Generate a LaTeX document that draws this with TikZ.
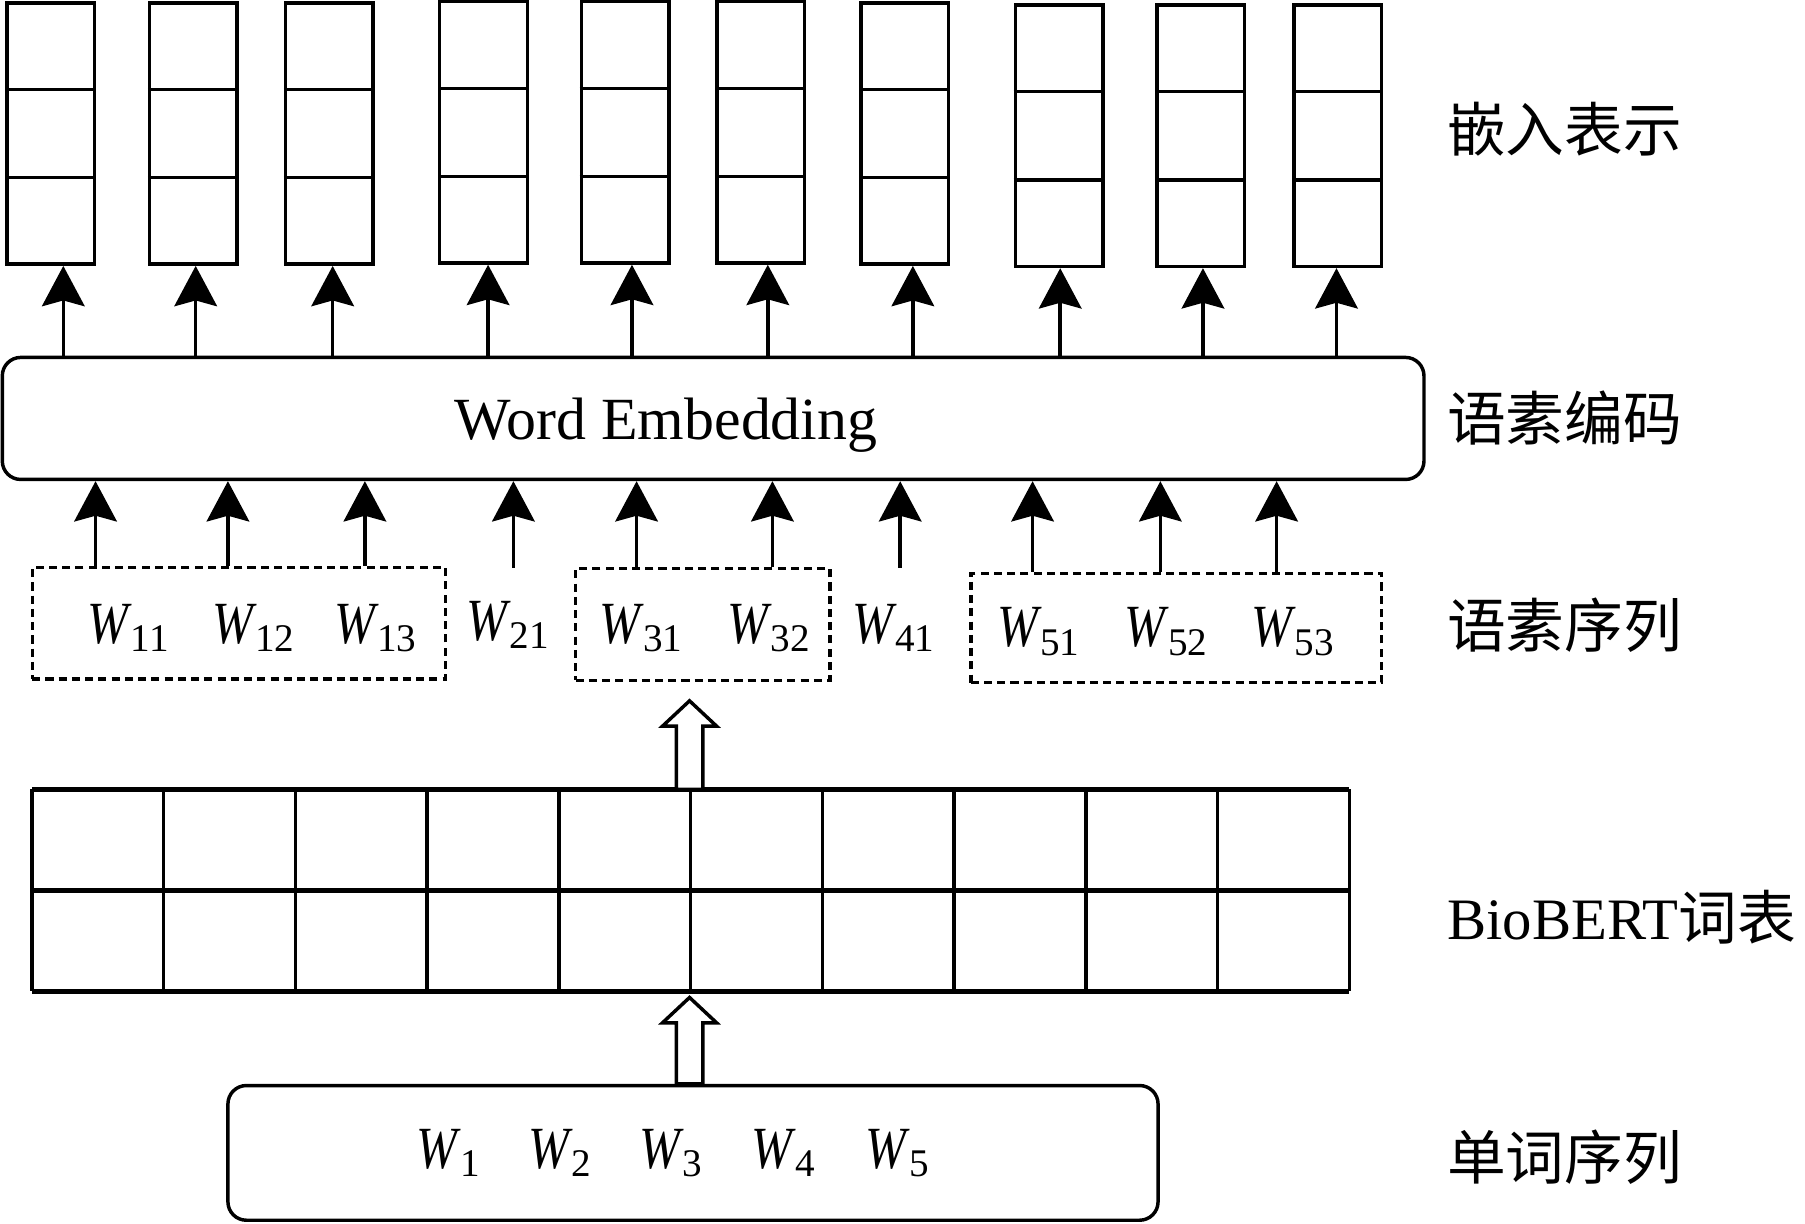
\documentclass[tikz,border=0pt]{standalone}
\usepackage{fontspec}
\usepackage{graphicx}
\setmainfont{Liberation Serif}
\newfontfamily\cjk{Noto Sans CJK SC}
\usetikzlibrary{arrows.meta,calc}

\newcommand{\wsub}[1]{\scalebox{0.82}[1]{\itshape W}\kern2pt\raisebox{-7pt}{\fontsize{34}{40}\selectfont #1}}

\tikzset{
  embcol/.style={draw, line width=3pt, minimum width=76pt, minimum height=227pt, inner sep=0pt},
  rbox/.style={draw, line width=3pt, rounded corners=16pt, inner sep=0pt},
  dbox/.style={draw, line width=3pt, dash pattern=on 7pt off 4.5pt, inner sep=0pt},
  wlab/.style={anchor=base west, inner sep=0pt, font=\fontsize{52}{62}\selectfont},
  lab/.style={anchor=west, inner sep=0pt, font=\cjk\fontsize{51}{60}\selectfont},
  uparrow/.style={line width=3pt, -{Stealth[length=35pt, width=37pt, inset=5pt]}},
  hollow/.style={line width=3pt, fill=white, line join=miter},
  vline/.style={line width=3pt},
  hline/.style={line width=4pt},
}

\begin{document}
\begin{tikzpicture}[x=1pt, y=-1pt]
  \useasboundingbox (0,0) rectangle (1568,1062.5);

  % Word embedding layer
  \node[rbox, minimum width=1235pt, minimum height=106pt] (emb) at (619.5,363.5) {};
  \node[wlab] (embtxt) at (395,382) {Word Embedding};

  % Embedding vectors
  \foreach \i/\x/\y/\ax in {1/44/116/55, 2/168/116/170, 3/286/116/289, 4/420/115/424, 5/543/115/549,
                            6/661/115/667, 7/786/116/793, 8/920/118/921, 9/1043/118/1045, 10/1162/118/1161} {
    \node[embcol] (col\i) at (\x,\y) {};
    \draw[line width=3pt] ($(col\i.north west)!1/3!(col\i.south west)$) -- ($(col\i.north east)!1/3!(col\i.south east)$);
    \draw[line width=3pt] ($(col\i.north west)!2/3!(col\i.south west)$) -- ($(col\i.north east)!2/3!(col\i.south east)$);
    \draw[uparrow] (emb.north -| \ax,0) -- (col\i.south -| \ax,0);
  }

  % Subword sequence
  \node[dbox, minimum width=359pt, minimum height=97pt] (dA) at (207.5,541.5) {};
  \node[dbox, minimum width=221pt, minimum height=97pt] (dB) at (610.5,542.5) {};
  \node[dbox, minimum width=357pt, minimum height=95pt] (dC) at (1021.8,545.5) {};

  \node[wlab] (w11) at (76,559) {\wsub{11}};
  \node[wlab] (w12) at (184,559) {\wsub{12}};
  \node[wlab] (w13) at (290,559) {\wsub{13}};
  \node[wlab] (w21) at (405,556) {\wsub{21}};
  \node[wlab] (w31) at (521,559) {\wsub{31}};
  \node[wlab] (w32) at (632,559) {\wsub{32}};
  \node[wlab] (w41) at (740,559) {\wsub{41}};
  \node[wlab] (w51) at (866,562) {\wsub{51}};
  \node[wlab] (w52) at (977,562) {\wsub{52}};
  \node[wlab] (w53) at (1087,562) {\wsub{53}};

  \coordinate (t21) at (446,493);
  \coordinate (t41) at (782,493);
  \foreach \ax in {83,198,317} \draw[uparrow] (dA.north -| \ax,0) -- (emb.south -| \ax,0);
  \foreach \ax in {553,671} \draw[uparrow] (dB.north -| \ax,0) -- (emb.south -| \ax,0);
  \foreach \ax in {897,1008,1109} \draw[uparrow] (dC.north -| \ax,0) -- (emb.south -| \ax,0);
  \draw[uparrow] (t21) -- (emb.south -| t21);
  \draw[uparrow] (t41) -- (emb.south -| t41);

  % BioBERT vocabulary
  \node[inner sep=0pt, minimum width=1144pt, minimum height=175pt] (tab) at (600,773.5) {};
  \foreach \k in {0,...,10}
    \draw[vline] ($(tab.north west)!\k/10!(tab.north east)$) -- ($(tab.south west)!\k/10!(tab.south east)$);
  \foreach \k in {0,0.5,1}
    \draw[hline] ($(tab.north west)!\k!(tab.south west)$) -- ($(tab.north east)!\k!(tab.south east)$);

  % Word sequence
  \node[rbox, minimum width=808pt, minimum height=117pt] (wbox) at (602,1001.5) {};
  \node[wlab] (w1) at (362,1015) {\wsub{1}};
  \node[wlab] (w2) at (459,1015) {\wsub{2}};
  \node[wlab] (w3) at (555,1015) {\wsub{3}};
  \node[wlab] (w4) at (653,1015) {\wsub{4}};
  \node[wlab] (w5) at (752,1015) {\wsub{5}};

  % Hollow arrows
  \draw[hollow] (tab.north) ++(-12.5,0) -- ++(0,-55) -- ++(-12,0) -- ++(23.5,-22) -- ++(23.5,22)
    -- ++(-12,0) -- ++(0,55) -- cycle;
  \draw[hollow] (wbox.north -| tab.south) ++(-12.5,0) -- ++(0,-53) -- ++(-12,0) -- ++(23.5,-22) -- ++(23.5,22)
    -- ++(-12,0) -- ++(0,53) -- cycle;

  % Layer names
  \node[lab] (l1) at (1257,112) {嵌入表示};
  \node[lab] (l2) at (1257,363) {语素编码};
  \node[lab] (l3) at (1257,543) {语素序列};
  \node[lab] (l4) at (1257,797) {{\rmfamily BioBERT}词表};
  \node[lab] (l5) at (1257,1005) {单词序列};
\end{tikzpicture}
\end{document}
